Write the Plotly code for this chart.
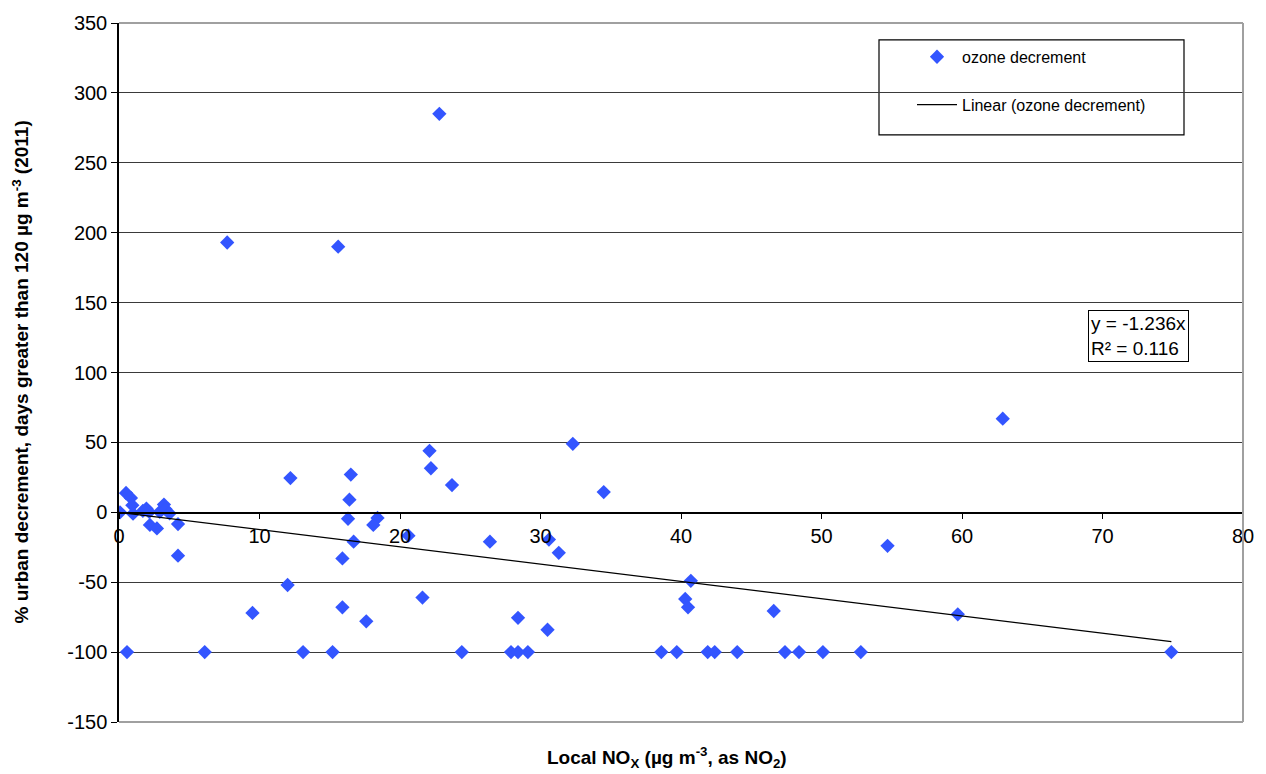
import plotly.graph_objects as go

# Local NOx (x) and % urban decrement (y)
nox = [
    0.07, 0.5, 0.85, 0.95, 1.0, 1.7, 1.95, 2.15, 2.2, 2.7, 2.9, 3.2, 3.3, 3.6, 4.2, 4.2,
    7.7, 15.6, 22.8, 62.9, 32.3, 22.1, 22.2, 23.7, 34.5, 12.2, 16.5, 16.4, 16.3, 18.4,
    18.1, 20.6, 16.7, 26.4, 30.6, 31.3, 15.9, 54.7, 40.7, 40.3, 40.5, 46.6, 59.7, 12.0,
    9.5, 15.9, 17.6, 21.6, 28.4, 30.5,
    0.57, 6.1, 13.1, 15.2, 24.4, 27.9, 28.4, 29.1, 38.6, 39.7, 41.9, 42.4, 44.0, 47.4,
    48.4, 50.1, 52.8, 74.9,
]
decrement = [
    0, 13.8, 10.3, 5, -1, 1, 2.7, 0.3, -9, -11.5, 0.3, 5.5, 2.3, -0.8, -8.4, -31,
    193, 190, 285, 67, 49, 44, 31.5, 19.5, 14.5, 24.5, 27, 9, -4.6, -4,
    -9, -16.7, -21, -21, -19.5, -29, -33, -24, -49, -62, -68, -70.6, -73, -52,
    -72, -68, -78, -61, -75.5, -84,
    -100, -100, -100, -100, -100, -100, -100, -100, -100, -100, -100, -100, -100, -100,
    -100, -100, -100, -100,
]
slope = -1.236
r2 = 0.116
x_ticks = [0, 10, 20, 30, 40, 50, 60, 70, 80]
y_ticks = [-150, -100, -50, 0, 50, 100, 150, 200, 250, 300, 350]
y_tick_labels = ["-150", "-100", "-50", "0", "50", "100", "150", "200", "250", "300", "350"]

trend_x = [0, max(nox)]
trend_y = [slope * v for v in trend_x]

FONT = "Liberation Sans, Arial, sans-serif"
L, R, T, B = 119, 1243, 16, 722
PW, PH = R - L, B - T


def px(xp):
    return (xp - L) / PW


def py(yp):
    return (B - yp) / PH


fig = go.Figure()
fig.add_trace(go.Scatter(
    x=nox, y=decrement, mode="markers", name="ozone decrement",
    marker=dict(symbol="diamond", size=11, color="#3355ff"),
    legendgroup="a",
))
fig.add_trace(go.Scatter(
    x=trend_x, y=trend_y, mode="lines", name="Linear (ozone decrement)",
    line=dict(color="black", width=1.3),
    legendgroup="b",
))

fig.update_layout(
    width=1266, height=774,
    margin=dict(l=L, r=1266 - R, t=T, b=774 - B),
    paper_bgcolor="white", plot_bgcolor="white",
    font=dict(family=FONT, color="black", size=15),
    showlegend=True,
    legend=dict(
        x=px(912), y=py(33), xanchor="left", yanchor="top",
        bgcolor="rgba(0,0,0,0)", borderwidth=0,
        tracegroupgap=24, traceorder="grouped",
        font=dict(family=FONT, size=16, color="black"),
        itemwidth=40,
    ),
    xaxis=dict(
        range=[0, 80], tickvals=x_ticks, showgrid=False, zeroline=False,
        showline=True, linecolor="black", linewidth=1.5,
        ticks="outside", ticklen=6, tickcolor="black",
        anchor="free", position=py(510.5),
        tickfont=dict(family=FONT, size=20, color="black"),
    ),
    yaxis=dict(
        range=[-150, 350], tickvals=y_ticks, ticktext=y_tick_labels,
        showgrid=True, gridcolor="#3a3a3a",
        gridwidth=1, zeroline=False,
        showline=True, linecolor="black", linewidth=1.5,
        ticks="outside", ticklen=6, tickcolor="black",
        tickfont=dict(family=FONT, size=20, color="black"),
    ),
    shapes=[
        dict(type="line", xref="paper", yref="paper", x0=0, x1=1, y0=1, y1=1,
             line=dict(color="#a0a0a0", width=2), layer="above"),
        dict(type="line", xref="paper", yref="paper", x0=1, x1=1, y0=0, y1=1,
             line=dict(color="#a0a0a0", width=2), layer="above"),
        dict(type="line", xref="paper", yref="paper", x0=0, x1=1, y0=0, y1=0,
             line=dict(color="#a0a0a0", width=2), layer="above"),
        dict(type="rect", xref="paper", yref="paper",
             x0=px(879), x1=px(1184), y0=py(129), y1=py(33),
             line=dict(color="black", width=1.2), fillcolor="white", layer="below"),
    ],
    annotations=[
        dict(text="Local NO<sub>X</sub> (µg m<sup>-3</sup>, as NO<sub>2</sub>)",
             xref="paper", yref="paper", x=px(667), y=py(758),
             xanchor="center", yanchor="middle", showarrow=False,
             font=dict(family=FONT, size=19, color="black", weight="bold")),
        dict(text="% urban decrement, days greater than 120 µg m<sup>-3</sup> (2011)",
             xref="paper", yref="paper", x=px(20), y=py(369),
             xanchor="center", yanchor="middle", textangle=-90, showarrow=False,
             font=dict(family=FONT, size=19, color="black", weight="bold")),
        dict(text="y = -1.236x<br>R² = 0.116",
             xref="paper", yref="paper", x=px(1088), y=py(306),
             xanchor="left", yanchor="top", align="left", showarrow=False,
             bgcolor="white", bordercolor="black", borderwidth=1, borderpad=2,
             font=dict(family=FONT, size=19, color="black")),
    ],
)

fig.write_html("out.html", config={"displayModeBar": False},
               post_script="document.body.style.margin='0';document.body.style.overflow='hidden';")
